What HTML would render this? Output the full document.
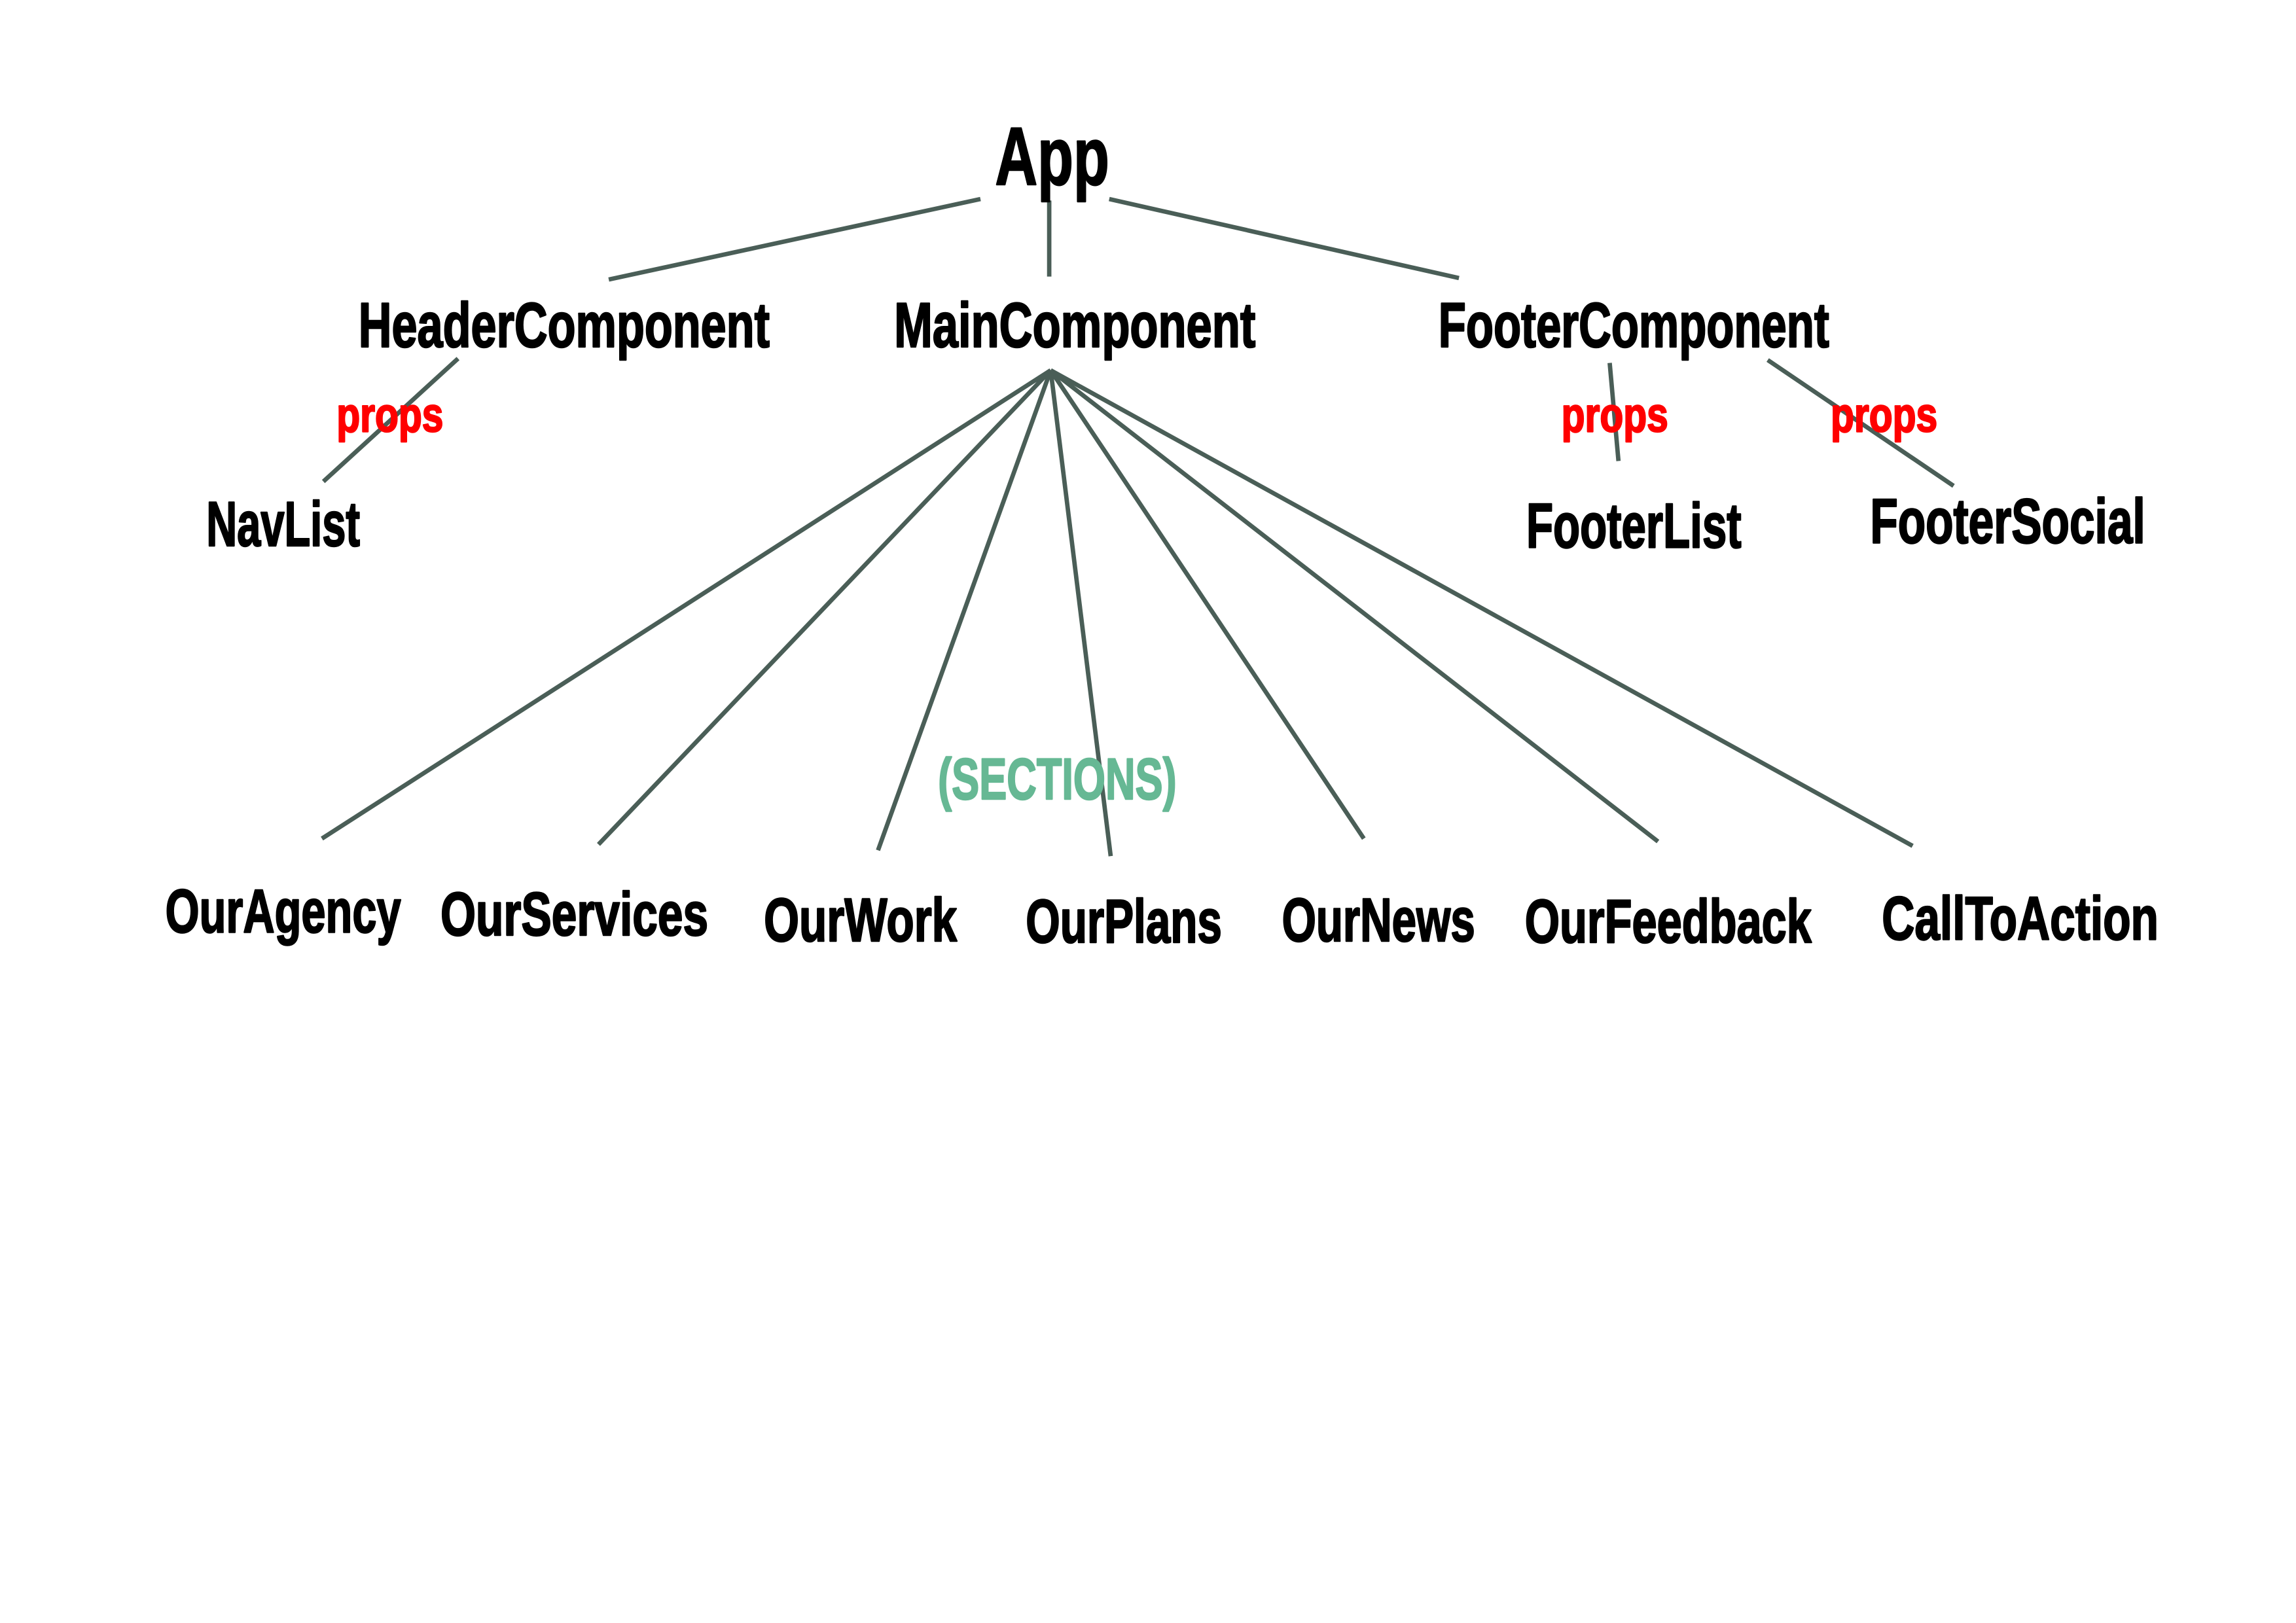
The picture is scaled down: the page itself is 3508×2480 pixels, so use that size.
<!DOCTYPE html>
<html><head><meta charset="utf-8"><style>
html,body{margin:0;padding:0;background:#fff;}
svg{display:block;}
text{font-family:"Liberation Sans Narrow","Liberation Sans",sans-serif;font-weight:bold;stroke-width:1.1;stroke-linejoin:round;}
</style></head><body>
<svg width="3508" height="2480" viewBox="0 0 1569 1109" preserveAspectRatio="none" xmlns="http://www.w3.org/2000/svg">
<rect width="1569" height="1109" fill="#fff"/>
<g stroke="#4a5e57" stroke-width="3" fill="none">
<line x1="670" y1="136" x2="416" y2="191"/>
<line x1="717" y1="137" x2="717" y2="189"/>
<line x1="758" y1="136" x2="997" y2="190"/>
<line x1="313" y1="245" x2="221" y2="329"/>
<line x1="1100" y1="248" x2="1106" y2="315"/>
<line x1="1208" y1="246" x2="1335" y2="332"/>
<line x1="718" y1="253" x2="220" y2="573"/>
<line x1="718" y1="253" x2="409" y2="577"/>
<line x1="718" y1="253" x2="600" y2="581"/>
<line x1="718" y1="253" x2="759" y2="585"/>
<line x1="718" y1="253" x2="932" y2="573"/>
<line x1="718" y1="253" x2="1133" y2="575"/>
<line x1="718" y1="253" x2="1307" y2="578"/>
</g>
<g fill="#000" stroke="#000">
<text x="680" y="126" font-size="56" textLength="78" lengthAdjust="spacingAndGlyphs">App</text>
<text x="245" y="237" font-size="43" textLength="281" lengthAdjust="spacingAndGlyphs">HeaderComponent</text>
<text x="611" y="237" font-size="43" textLength="247" lengthAdjust="spacingAndGlyphs">MainComponent</text>
<text x="983" y="237" font-size="43" textLength="267" lengthAdjust="spacingAndGlyphs">FooterComponent</text>
<text x="141" y="373" font-size="43" textLength="105" lengthAdjust="spacingAndGlyphs">NavList</text>
<text x="1043" y="374" font-size="43" textLength="147" lengthAdjust="spacingAndGlyphs">FooterList</text>
<text x="1278" y="371" font-size="43" textLength="188" lengthAdjust="spacingAndGlyphs">FooterSocial</text>
<text x="113" y="637" font-size="42" textLength="161" lengthAdjust="spacingAndGlyphs">OurAgency</text>
<text x="301" y="639" font-size="42" textLength="183" lengthAdjust="spacingAndGlyphs">OurServices</text>
<text x="522" y="643" font-size="42" textLength="132" lengthAdjust="spacingAndGlyphs">OurWork</text>
<text x="701" y="644" font-size="42" textLength="134" lengthAdjust="spacingAndGlyphs">OurPlans</text>
<text x="876" y="643" font-size="42" textLength="132" lengthAdjust="spacingAndGlyphs">OurNews</text>
<text x="1042" y="644" font-size="42" textLength="196" lengthAdjust="spacingAndGlyphs">OurFeedback</text>
<text x="1286" y="642" font-size="42" textLength="189" lengthAdjust="spacingAndGlyphs">CallToAction</text>
</g>
<g fill="#ff0000" stroke="#ff0000">
<text x="230" y="295" font-size="33" textLength="73" lengthAdjust="spacingAndGlyphs">props</text>
<text x="1067" y="295" font-size="33" textLength="73" lengthAdjust="spacingAndGlyphs">props</text>
<text x="1251" y="295" font-size="33" textLength="73" lengthAdjust="spacingAndGlyphs">props</text>
</g>
<text x="641" y="546" font-size="40" fill="#66b894" stroke="#66b894" textLength="163" lengthAdjust="spacingAndGlyphs">(SECTIONS)</text>
</svg>
</body></html>
